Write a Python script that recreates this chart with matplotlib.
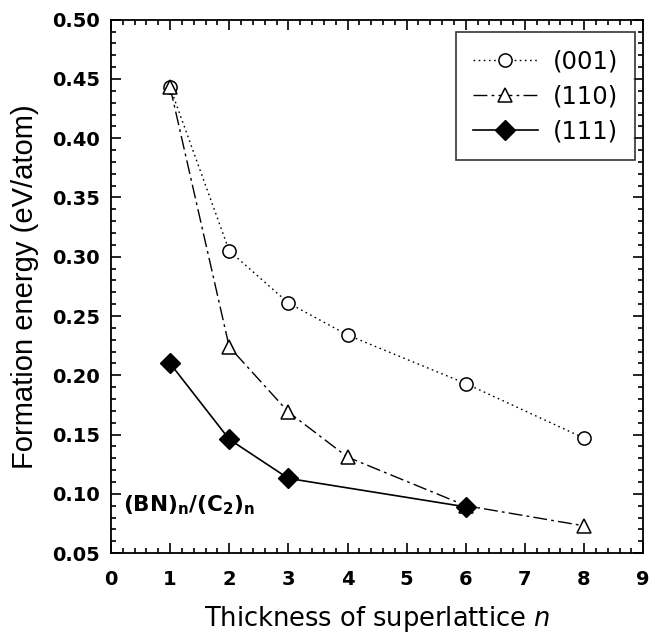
import numpy as np
import matplotlib
matplotlib.use("Agg")
import matplotlib.pyplot as plt
from matplotlib.ticker import MultipleLocator, FormatStrFormatter

plt.rcParams['font.family'] = ['DejaVu Sans']
plt.rcParams['mathtext.fontset'] = 'dejavusans'

# ---------- data ----------
n_001 = [1, 2, 3, 4, 6, 8]
e_001 = [0.443, 0.305, 0.261, 0.234, 0.193, 0.147]

n_110 = [1, 2, 3, 4, 6, 8]
e_110 = [0.443, 0.224, 0.169, 0.131, 0.090, 0.073]

n_111 = [1, 2, 3, 6]
e_111 = [0.210, 0.146, 0.113, 0.089]

fig = plt.figure(figsize=(6.49, 6.35), dpi=100)
ax = fig.add_axes([0.171, 0.129, 0.820, 0.840])

ax.plot(n_001, e_001, color='black', lw=1.0, ls=(0, (1.2, 2.5)),
        marker='o', ms=9.5, mfc='white', mec='black', mew=1.1, label='(001)')
ax.plot(n_110, e_110, color='black', lw=1.0, ls=(0, (10, 3, 2, 3)),
        marker='^', ms=9.5, mfc='white', mec='black', mew=1.1, label='(110)')
ax.plot(n_111, e_111, color='black', lw=1.2, ls='-',
        marker='D', ms=10.5, mfc='black', mec='black', label='(111)')

ax.set_xlim(0, 9)
ax.set_ylim(0.05, 0.50)
ax.xaxis.set_major_locator(MultipleLocator(1))
ax.xaxis.set_minor_locator(MultipleLocator(0.2))
ax.yaxis.set_major_locator(MultipleLocator(0.05))
ax.yaxis.set_minor_locator(MultipleLocator(0.01))
ax.yaxis.set_major_formatter(FormatStrFormatter('%.2f'))

ax.tick_params(which='both', direction='in', top=True, right=True, width=1.2)
ax.tick_params(which='major', length=7, labelsize=14)
ax.tick_params(axis='x', which='major', pad=12)
ax.tick_params(axis='y', which='major', pad=8)
ax.tick_params(which='minor', length=3.5)
for lab in ax.get_xticklabels() + ax.get_yticklabels():
    lab.set_fontweight('bold')
for sp in ax.spines.values():
    sp.set_linewidth(1.3)

ax.set_xlabel(r'Thickness of superlattice $\mathit{n}$', fontsize=18.5, labelpad=11)
ax.set_ylabel('Formation energy (eV/atom)', fontsize=21, labelpad=9,
              family='Liberation Sans')

ax.text(0.2, 0.090, r'(BN)$_\mathbf{n}$/(C$_\mathbf{2}$)$_\mathbf{n}$',
        fontsize=15.5, fontweight='bold', va='center')

leg = ax.legend(loc='upper right', fontsize=17.5, frameon=True, fancybox=False,
                edgecolor='black', handlelength=2.7, handletextpad=0.6,
                borderpad=0.7, labelspacing=0.45, borderaxespad=0,
                bbox_to_anchor=(0.985, 0.976))
leg.get_frame().set_linewidth(1.2)

fig.savefig('out.png', dpi=100)
